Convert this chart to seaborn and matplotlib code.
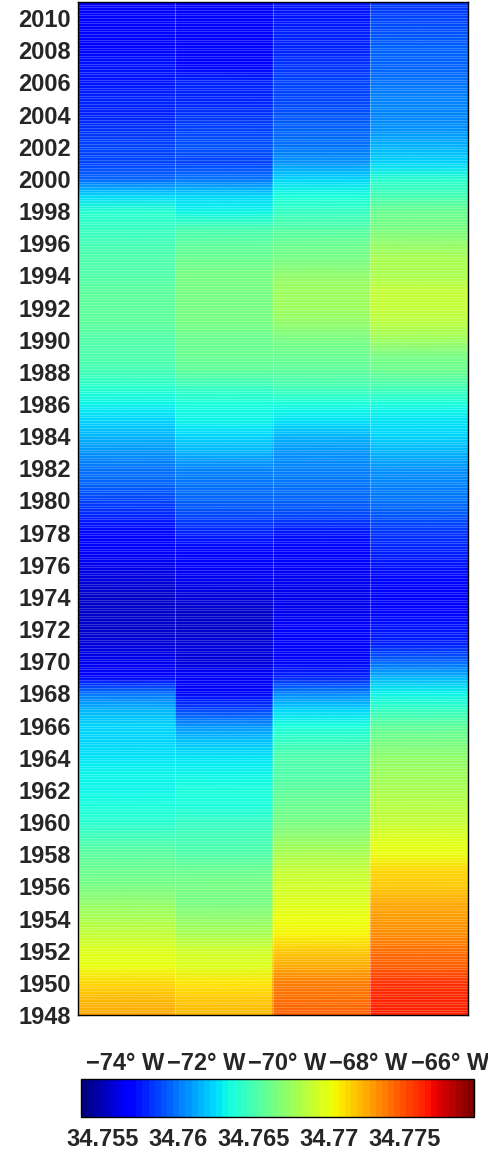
import numpy as np
import pandas as pd
import matplotlib
matplotlib.use("Agg")
import matplotlib.pyplot as plt
import matplotlib.colors as mcolors
import matplotlib.cm as cm
import seaborn as sns

# annual salinity per longitude band, 1948..2011
years = np.arange(1948, 2012)
lon_edges = [-75.15, -72.75, -70.35, -67.95, -65.55]

sal_74 = [34.7726, 34.7721, 34.7713, 34.7702, 34.7695, 34.7687, 34.7679, 34.7671,
          34.7666, 34.7661, 34.7656, 34.7648, 34.7640, 34.7635, 34.7632, 34.7630,
          34.7627, 34.7624, 34.7622, 34.7614, 34.7598, 34.7572, 34.7562, 34.7557,
          34.7554, 34.7554, 34.7554, 34.7557, 34.7562, 34.7567, 34.7572, 34.7580,
          34.7588, 34.7593, 34.7598, 34.7606, 34.7614, 34.7622, 34.7630, 34.7640,
          34.7648, 34.7650, 34.7653, 34.7656, 34.7656, 34.7656, 34.7653, 34.7650,
          34.7648, 34.7645, 34.7640, 34.7622, 34.7593, 34.7588, 34.7585, 34.7583,
          34.7580, 34.7578, 34.7575, 34.7574, 34.7572, 34.7571, 34.7570, 34.7567]
sal_72 = [34.7721, 34.7715, 34.7708, 34.7697, 34.7692, 34.7682, 34.7674, 34.7666,
          34.7663, 34.7658, 34.7653, 34.7648, 34.7643, 34.7637, 34.7635, 34.7632,
          34.7627, 34.7619, 34.7606, 34.7588, 34.7572, 34.7565, 34.7559, 34.7557,
          34.7554, 34.7554, 34.7557, 34.7562, 34.7565, 34.7570, 34.7578, 34.7588,
          34.7593, 34.7598, 34.7604, 34.7614, 34.7622, 34.7630, 34.7635, 34.7645,
          34.7656, 34.7658, 34.7661, 34.7663, 34.7666, 34.7666, 34.7663, 34.7661,
          34.7656, 34.7648, 34.7632, 34.7622, 34.7598, 34.7588, 34.7591, 34.7588,
          34.7583, 34.7580, 34.7578, 34.7572, 34.7570, 34.7567, 34.7565, 34.7567]
sal_69 = [34.7744, 34.7741, 34.7736, 34.7725, 34.7715, 34.7705, 34.7700, 34.7697,
          34.7692, 34.7689, 34.7682, 34.7674, 34.7666, 34.7661, 34.7656, 34.7653,
          34.7650, 34.7645, 34.7635, 34.7622, 34.7601, 34.7580, 34.7570, 34.7567,
          34.7565, 34.7562, 34.7562, 34.7562, 34.7565, 34.7567, 34.7575, 34.7585,
          34.7593, 34.7598, 34.7604, 34.7609, 34.7617, 34.7627, 34.7635, 34.7648,
          34.7656, 34.7661, 34.7666, 34.7674, 34.7676, 34.7676, 34.7671, 34.7666,
          34.7658, 34.7653, 34.7645, 34.7635, 34.7622, 34.7609, 34.7598, 34.7593,
          34.7591, 34.7588, 34.7585, 34.7583, 34.7580, 34.7578, 34.7575, 34.7575]
sal_67 = [34.7762, 34.7760, 34.7757, 34.7747, 34.7740, 34.7734, 34.7728, 34.7723,
          34.7718, 34.7713, 34.7702, 34.7695, 34.7687, 34.7684, 34.7679, 34.7676,
          34.7674, 34.7666, 34.7656, 34.7645, 34.7630, 34.7614, 34.7593, 34.7580,
          34.7575, 34.7572, 34.7570, 34.7572, 34.7575, 34.7578, 34.7583, 34.7591,
          34.7598, 34.7604, 34.7609, 34.7614, 34.7622, 34.7627, 34.7635, 34.7648,
          34.7658, 34.7666, 34.7676, 34.7684, 34.7689, 34.7687, 34.7682, 34.7679,
          34.7674, 34.7666, 34.7658, 34.7648, 34.7640, 34.7624, 34.7614, 34.7609,
          34.7604, 34.7601, 34.7598, 34.7596, 34.7593, 34.7591, 34.7588, 34.7583]

lon_ticks = [-74, -72, -70, -68, -66]
lon_labels = ["\u221274\u00b0 W", "\u221272\u00b0 W", "\u221270\u00b0 W",
              "\u221268\u00b0 W", "\u221266\u00b0 W"]
year_ticks = np.arange(1948, 2011, 2)
cbar_ticks = [34.755, 34.76, 34.765, 34.77, 34.775]
cbar_labels = ["34.755", "34.76", "34.765", "34.77", "34.775"]
vmin, vmax = 34.7536, 34.7796

df = pd.DataFrame({"-74": sal_74, "-72": sal_72, "-69": sal_69, "-67": sal_67},
                  index=years)

sns.set_theme(style="ticks")
plt.rcParams["font.family"] = ["Liberation Sans", "DejaVu Sans"]
plt.rcParams["font.weight"] = "bold"
plt.rcParams["font.size"] = 17

cmap = plt.get_cmap("jet", 64)
norm = mcolors.Normalize(vmin=vmin, vmax=vmax)

fig = plt.figure(figsize=(4.89, 11.5), dpi=100)
ax = fig.add_axes([0.1595, 1 - 1015 / 1150, 0.7975, 1013 / 1150])

for i, col in enumerate(df.columns):
    v = df[col].to_numpy()
    ax.pcolormesh([lon_edges[i], lon_edges[i + 1]], df.index.to_numpy(),
                  np.column_stack([v, v]), shading="gouraud", cmap=cmap, norm=norm)
# faint cell-edge texture of the original monthly grid
ax.hlines(np.arange(years[0], years[-1], 1 / 6), lon_edges[0], lon_edges[-1],
          colors="white", alpha=0.22, lw=0.7)
ax.vlines(lon_edges[1:-1], years[0], years[-1], colors="white", alpha=0.3, lw=0.8)

ax.set_xlim(lon_edges[0], lon_edges[-1])
ax.set_ylim(years[0], years[-1])
ax.set_xticks(lon_ticks)
ax.set_xticklabels(lon_labels, fontsize=17, fontweight="bold")
ax.set_yticks(year_ticks)
ax.set_yticklabels([str(y) for y in year_ticks], fontsize=17, fontweight="bold")
ax.tick_params(axis="both", direction="in", top=True, right=True, length=6,
               width=0.8, color="#333333")
ax.tick_params(axis="x", pad=27)
ax.tick_params(axis="y", pad=5)
for s in ax.spines.values():
    s.set_color("black")
    s.set_linewidth(1.0)

cax = fig.add_axes([0.16564, 0.0290, 0.80368, 0.0325])
cb = fig.colorbar(cm.ScalarMappable(norm=norm, cmap=cmap), cax=cax,
                  orientation="horizontal")
cb.set_ticks(cbar_ticks)
cb.set_ticklabels(cbar_labels, fontsize=17, fontweight="bold")
cax.tick_params(direction="in", top=True, bottom=True, length=5, pad=8,
                color="black", width=0.8)
cb.outline.set_edgecolor("black")
cb.outline.set_linewidth(1.0)

fig.savefig("out.png", dpi=100)
